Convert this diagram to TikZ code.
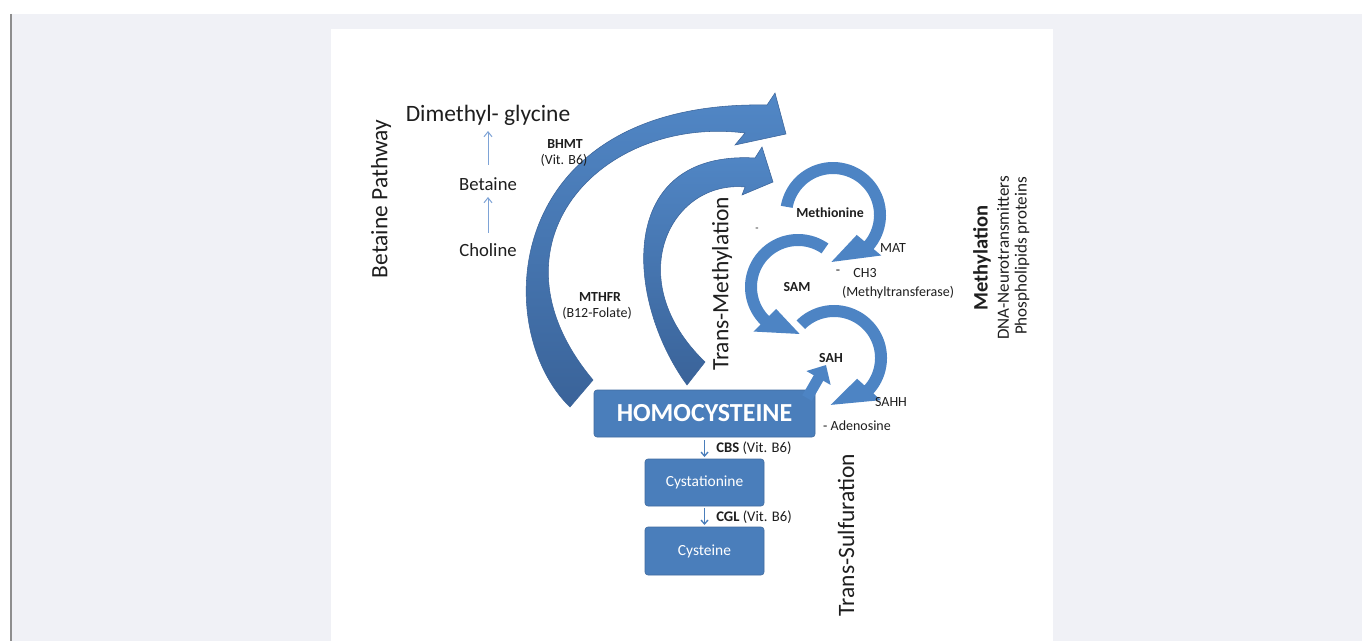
\documentclass[tikz,border=0pt]{standalone}
\usepackage{fontspec}
\setmainfont{Carlito}
\usetikzlibrary{arrows.meta}
\definecolor{bgray}{HTML}{F0F1F6}
\definecolor{edgegray}{HTML}{8E8E8E}
\definecolor{boxblue}{HTML}{4A7EBB}
\definecolor{arrowlight}{HTML}{5187C6}
\definecolor{arrowdark}{HTML}{3A6399}
\definecolor{circblue}{HTML}{4D84C4}
\definecolor{thinblue}{HTML}{7EA3D6}
\definecolor{txt}{HTML}{1E1E1E}
\newcommand\circarrow[5]{%
 \fill[circblue] plot[domain=#3:#4, samples=60] ({#1+53*cos(\x)},{#2+53*sin(\x)})
   -- ({#1+63*cos(#4)},{#2+63*sin(#4)})
   -- ({#1+47*cos(#5)},{#2+47*sin(#5)})
   -- ({#1+31*cos(#4)},{#2+31*sin(#4)})
   -- plot[domain=#4:#3, samples=60] ({#1+41*cos(\x)},{#2+41*sin(\x)}) -- cycle;}
\tikzset{
  tx/.style={text=txt, inner sep=0pt},
  big/.style={tx, font=\fontsize{17.6}{20}\selectfont},
  mid/.style={tx, font=\fontsize{14}{16}\selectfont},
  side/.style={tx, font=\fontsize{12.8}{15}\selectfont},
  sml/.style={tx, font=\fontsize{10.5}{12}\selectfont},
  smlb/.style={tx, font=\bfseries\fontsize{10.4}{12}\selectfont},
  lab/.style={tx, font=\fontsize{10.5}{12}\selectfont},
  boxnode/.style={fill=boxblue, rounded corners=2.25pt, text=white, inner sep=0pt,
     draw=boxblue!85!black, line width=0.45pt},
  thinarrow/.style={thinblue, line width=0.75pt, -{Straight Barb[length=3.75pt, width=6pt]}},
  downarrow/.style={boxblue, line width=1pt, -{Straight Barb[length=3pt, width=5.25pt]}},
  bigarrow/.style={top color=arrowlight, bottom color=arrowdark, draw=arrowdark, line width=0.4pt},
  blockarrow/.style={circblue, line width=8.25pt, -{Triangle[width=20.25pt, length=11.25pt]}},
}
\begin{document}
\begin{tikzpicture}[x=0.75pt, y=-0.75pt]
\useasboundingbox (0,0) rectangle (1362,641);
\fill[white] (0,0) rectangle (1362,641);
\fill[bgray] (11,14) rectangle (1362,641);
\draw[edgegray, line width=1.5pt] (11,14) -- (11,641);
\fill[white] (331,29) rectangle (1053,641);

% big curved arrows
\shade[bigarrow] (570,407) .. controls (490,330) and (500,100) .. (767,105)
  -- (775,93) -- (786,134) -- (735,145) -- (745,133)
  .. controls (600,115) and (480,245) .. (593,380) -- cycle;
\shade[bigarrow] (687,385) .. controls (625,300) and (615,150) .. (755,158)
  -- (762,147) -- (773,182) -- (742,195) -- (745,187)
  .. controls (670,180) and (620,280) .. (705,362) -- cycle;

% circular arrows
\circarrow{833}{215}{190}{400}{452}
\circarrow{798}{287}{305}{135}{88}
\circarrow{834}{358}{225}{402}{454}

% boxes
\node[boxnode, minimum width=165.75pt, minimum height=35.25pt,
      font=\bfseries\fontsize{19.5}{22}\selectfont] (homo) at (704.5,413.5) {HOMOCYSTEINE};
\node[boxnode, minimum width=89.25pt, minimum height=35.25pt,
      font=\fontsize{11.6}{13}\selectfont] (cyst) at (704.5,482.5) {Cystationine};
\node[boxnode, minimum width=89.25pt, minimum height=36pt,
      font=\fontsize{11.6}{13}\selectfont] (cys) at (704.5,551) {Cysteine};

% block arrow homocysteine -> SAH
\coordinate (hs) at (807,398);
\coordinate (ht) at (826,365);
\draw[blockarrow] (hs) -- (ht);

\draw[downarrow, shorten <=19.9pt, shorten >=19.1pt] (homo.center) -- (cyst.center);
\draw[downarrow, shorten <=19.1pt, shorten >=19.5pt] (cyst.center) -- (cys.center);

% betaine pathway
\node[big, rotate=90] (bp) at (381,199) {Betaine Pathway};
\node[big] (dmg) at (488,115) {Dimethyl- glycine};
\node[mid] (bet) at (488,184) {Betaine};
\node[mid] (cho) at (488,250) {Choline};
\draw[thinarrow, shorten <=14.25pt, shorten >=12pt] (bet.center) -- (dmg.center);
\draw[thinarrow, shorten <=12.75pt, shorten >=9.75pt] (cho.center) -- (bet.center);
\node[smlb] (bhmt) at (565,144) {BHMT};
\node[sml] (bhmtv) at (564,160) {(Vit. B6)};
\node[smlb] (mthfr) at (600,297) {MTHFR};
\node[sml] (mthfrv) at (597,313) {(B12-Folate)};

\node[big, rotate=90] (tm) at (722,284) {Trans-Methylation};
\node[big, rotate=90] (ts) at (846,535) {Trans-Sulfuration};

% methylation cycle labels
\node[smlb] (met) at (830,213) {Methionine};
\node[tx, font=\fontsize{8}{9}\selectfont] (dash1) at (757,230) {-};
\node[lab] (mat) at (893,248) {MAT};
\node[lab] (dash2) at (838,272) {-};
\node[lab] (ch3) at (865,273) {CH3};
\node[lab] (mtf) at (898,293) {(Methyltransferase)};
\node[smlb] (sam) at (797,287) {SAM};
\node[smlb] (sah) at (831,358) {SAH};
\node[lab] (sahh) at (891,402) {SAHH};
\node[lab] (ado) at (857,426) {- Adenosine};

\node[lab, anchor=west, font=\fontsize{11}{13}\selectfont] (cbs) at (716,448) {\textbf{CBS} (Vit. B6)};
\node[lab, anchor=west, font=\fontsize{11}{13}\selectfont] (cgl) at (716,517) {\textbf{CGL} (Vit. B6)};

\node[tx, rotate=90, font=\bfseries\fontsize{15.4}{18}\selectfont] (methy) at (982,258) {Methylation};
\node[side, rotate=90] (dna) at (1003,258) {DNA-Neurotransmitters};
\node[side, rotate=90] (pho) at (1022,256) {Phospholipids proteins};
\end{tikzpicture}
\end{document}
